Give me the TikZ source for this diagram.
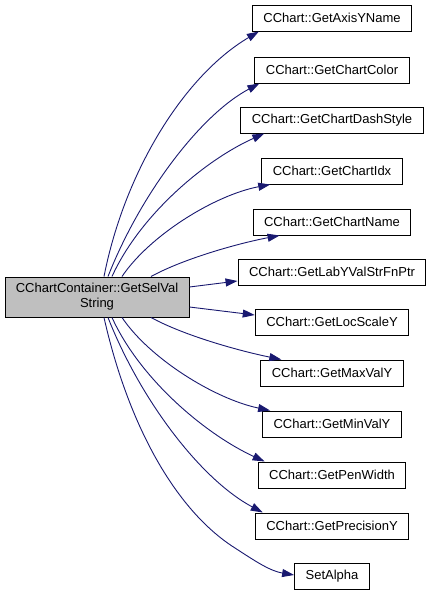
\documentclass[tikz,border=0pt]{standalone}
\usepackage{fontspec}
\setmainfont{Liberation Sans}
\usetikzlibrary{arrows.meta}
\definecolor{edgeblue}{HTML}{191970}
\definecolor{maingray}{HTML}{BFBFBF}
\begin{document}
\begin{tikzpicture}[x=1pt,y=-1pt,
  fn/.style={draw=black, fill=white, line width=1pt, inner xsep=11pt, inner ysep=0pt, minimum height=26pt, font=\fontsize{13}{15}\selectfont},
  mainfn/.style={draw=black, fill=maingray, line width=1pt, minimum width=184pt, minimum height=40pt, align=center, inner sep=0pt, font=\fontsize{13}{15}\selectfont},
  call/.style={draw=edgeblue, line width=0.9pt, -{Triangle[length=12pt,width=8pt]}}
]
\useasboundingbox (0,0) rectangle (432,595);

\node[mainfn] (main) at (97,297) {CChartContainer::GetSelVal\\String};

\node[fn] (n1)  at (332,18)  {CChart::GetAxisYName};
\node[fn] (n2)  at (332,70)  {CChart::GetChartColor};
\node[fn] (n3)  at (332,120) {CChart::GetChartDashStyle};
\node[fn] (n4)  at (332,171) {CChart::GetChartIdx};
\node[fn] (n5)  at (332,222) {CChart::GetChartName};
\node[fn] (n6)  at (332,272) {CChart::GetLabYValStrFnPtr};
\node[fn] (n7)  at (332,322) {CChart::GetLocScaleY};
\node[fn] (n8)  at (332,373) {CChart::GetMaxValY};
\node[fn] (n9)  at (332,424) {CChart::GetMinValY};
\node[fn] (n10) at (332,475) {CChart::GetPenWidth};
\node[fn] (n11) at (332,526) {CChart::GetPrecisionY};
\node[fn] (n12) at (332,576) {SetAlpha};

% upper edges
\draw[call] ([xshift=7pt]main.north) .. controls (125,170) and (185,75) .. ([xshift=7pt]n1.south west);
\draw[call] ([xshift=11pt]main.north) .. controls (140,195) and (200,115) .. ([xshift=5pt]n2.south west);
\draw[call] ([xshift=15pt]main.north) .. controls (140,215) and (205,160) .. ([xshift=24pt]n3.south west);
\draw[call] ([xshift=25pt]main.north) .. controls (150,235) and (215,195) .. ([xshift=9pt]n4.south west);
\draw[call] ([xshift=54pt]main.north) .. controls (185,258) and (240,243) .. ([xshift=27pt]n5.south west);
% side edges
\draw[call] ([yshift=10pt]main.east) -- ([yshift=-9pt]n6.west);
\draw[call] ([yshift=-10pt]main.east) -- ([yshift=7pt]n7.west);
% lower edges
\draw[call] ([xshift=54pt]main.south) .. controls (185,336) and (240,351) .. ([xshift=21pt]n8.north west);
\draw[call] ([xshift=25pt]main.south) .. controls (150,359) and (215,399) .. ([xshift=8pt]n9.north west);
\draw[call] ([xshift=15pt]main.south) .. controls (140,379) and (205,434) .. ([xshift=7pt]n10.north west);
\draw[call] ([xshift=11pt]main.south) .. controls (140,399) and (200,479) .. ([xshift=8pt]n11.north west);
\draw[call] ([xshift=7pt]main.south) .. controls (128,424) and (175,510) .. (235,548)
  .. controls (255,561) and (270,571) .. ([yshift=1pt]n12.west);
\end{tikzpicture}
\end{document}
